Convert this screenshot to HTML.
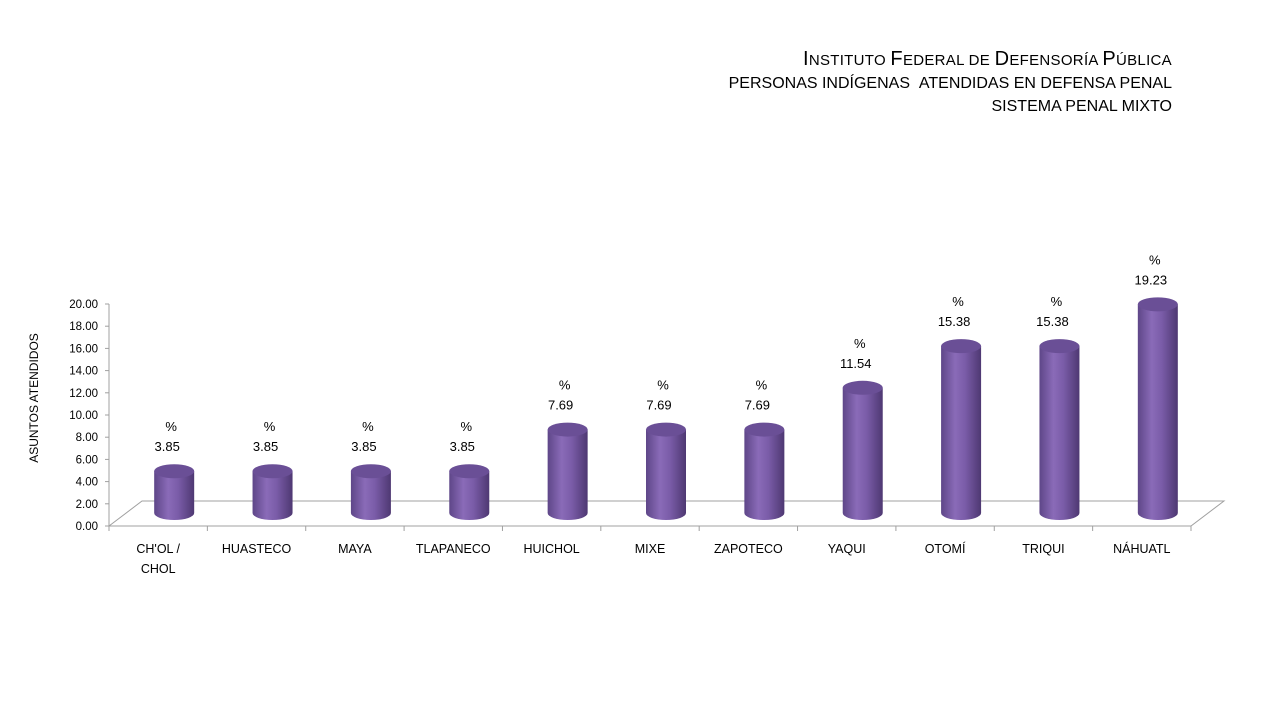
<!DOCTYPE html>
<html><head><meta charset="utf-8">
<style>
body{margin:0;background:#fff;font-family:"Liberation Sans",sans-serif;}
.t{position:absolute;right:108px;text-align:right;color:#000;}
</style></head>
<body>
<div style="position:relative;width:1280px;height:720px;overflow:hidden">
<div class="t" style="top:48px;font-size:15px;font-variant:small-caps;letter-spacing:0.3px"><span style="font-size:20px">I</span>NSTITUTO <span style="font-size:20px">F</span>EDERAL DE <span style="font-size:20px">D</span>EFENSORÍA <span style="font-size:20px">P</span>ÚBLICA</div>
<div class="t" style="top:75px;font-size:16px">PERSONAS INDÍGENAS &nbsp;ATENDIDAS EN DEFENSA PENAL</div>
<div class="t" style="top:98px;font-size:16px">SISTEMA PENAL MIXTO</div>
<svg id="c" width="1280" height="720" style="position:absolute;left:0;top:0">
<defs>
<linearGradient id="g" x1="0" x2="1" y1="0" y2="0">
<stop offset="0" stop-color="#5e4688"/><stop offset="0.35" stop-color="#8a6bb8"/><stop offset="0.6" stop-color="#7a5ca8"/><stop offset="1" stop-color="#4e3872"/>
</linearGradient>
</defs>
</svg>
</div>
<script>
const categories=["CH'OL /|CHOL","HUASTECO","MAYA","TLAPANECO","HUICHOL","MIXE","ZAPOTECO","YAQUI","OTOMÍ","TRIQUI","NÁHUATL"];
const values=[3.85,3.85,3.85,3.85,7.69,7.69,7.69,11.54,15.38,15.38,19.23];
const yTicks=[0,2,4,6,8,10,12,14,16,18,20];
const NS="http://www.w3.org/2000/svg";
const svg=document.getElementById('c');
const x0=109,x1=1191,axY0=526,axY1=304,dx=33,dy=25;
const n=categories.length,cw=(x1-x0)/n;
const yAxis=v=>axY0-(v/20)*(axY0-axY1);
const base=513,scale=10.85;
const yBar=v=>base-v*scale;
function mk(t,a){const e=document.createElementNS(NS,t);for(const k in a)e.setAttribute(k,a[k]);svg.appendChild(e);return e;}
let f=mk('polygon',{points:`${x0},${axY0} ${x0+dx},${axY0-dy} ${x1+dx},${axY0-dy} ${x1},${axY0}`,fill:'none',stroke:'#a0a0a0','stroke-width':1});


let ax=mk('line',{x1:x0,y1:axY1,x2:x0,y2:axY0,stroke:'#a0a0a0'});


yTicks.forEach(v=>{
  const y=yAxis(v);
  mk('line',{x1:x0-4,y1:y,x2:x0,y2:y,stroke:'#a0a0a0'});
  const t=mk('text',{x:x0-11,y:y+4,'text-anchor':'end','font-size':11.5,'font-family':'Liberation Sans, sans-serif'});
  t.textContent=v.toFixed(2);
  
  
});
const yt=mk('text',{x:0,y:0,transform:'translate(38,398) rotate(-90)','text-anchor':'middle','font-size':12,'font-family':'Liberation Sans, sans-serif'});
yt.textContent='ASUNTOS ATENDIDOS';


for(let i=0;i<=n;i++){const x=x0+i*cw;mk('line',{x1:x,y1:axY0,x2:x,y2:axY0+5,stroke:'#a0a0a0'});}
categories.forEach((c,i)=>{
  const cx=x0+(i+0.5)*cw;
  c.split('|').forEach((s,j)=>{
    const t=mk('text',{x:cx,y:553+j*20,'text-anchor':'middle','font-size':12.5,'font-family':'Liberation Sans, sans-serif'});
    t.textContent=s;
    
    
  });
  const v=values[i],bx=cx+16,r=20,ry=7,top=yBar(v);
  const g=document.createElementNS(NS,'g');svg.appendChild(g);
  
  
  const body=document.createElementNS(NS,'path');
  body.setAttribute('d',`M${bx-r},${top} L${bx-r},${base} A${r},${ry} 0 0 0 ${bx+r},${base} L${bx+r},${top} Z`);
  body.setAttribute('fill','url(#g)');g.appendChild(body);
  const cap=document.createElementNS(NS,'ellipse');
  cap.setAttribute('cx',bx);cap.setAttribute('cy',top);cap.setAttribute('rx',r);cap.setAttribute('ry',ry);
  cap.setAttribute('fill','#6a4f96');g.appendChild(cap);
  const p=mk('text',{x:bx-3,y:top-40,'text-anchor':'middle','font-size':13,'font-family':'Liberation Sans, sans-serif'});
  p.textContent='%';
  
  
  const vl=mk('text',{x:bx-7,y:top-20,'text-anchor':'middle','font-size':13,'font-family':'Liberation Sans, sans-serif'});
  vl.textContent=v.toFixed(2);
  
  
});
</script>
</body></html>
